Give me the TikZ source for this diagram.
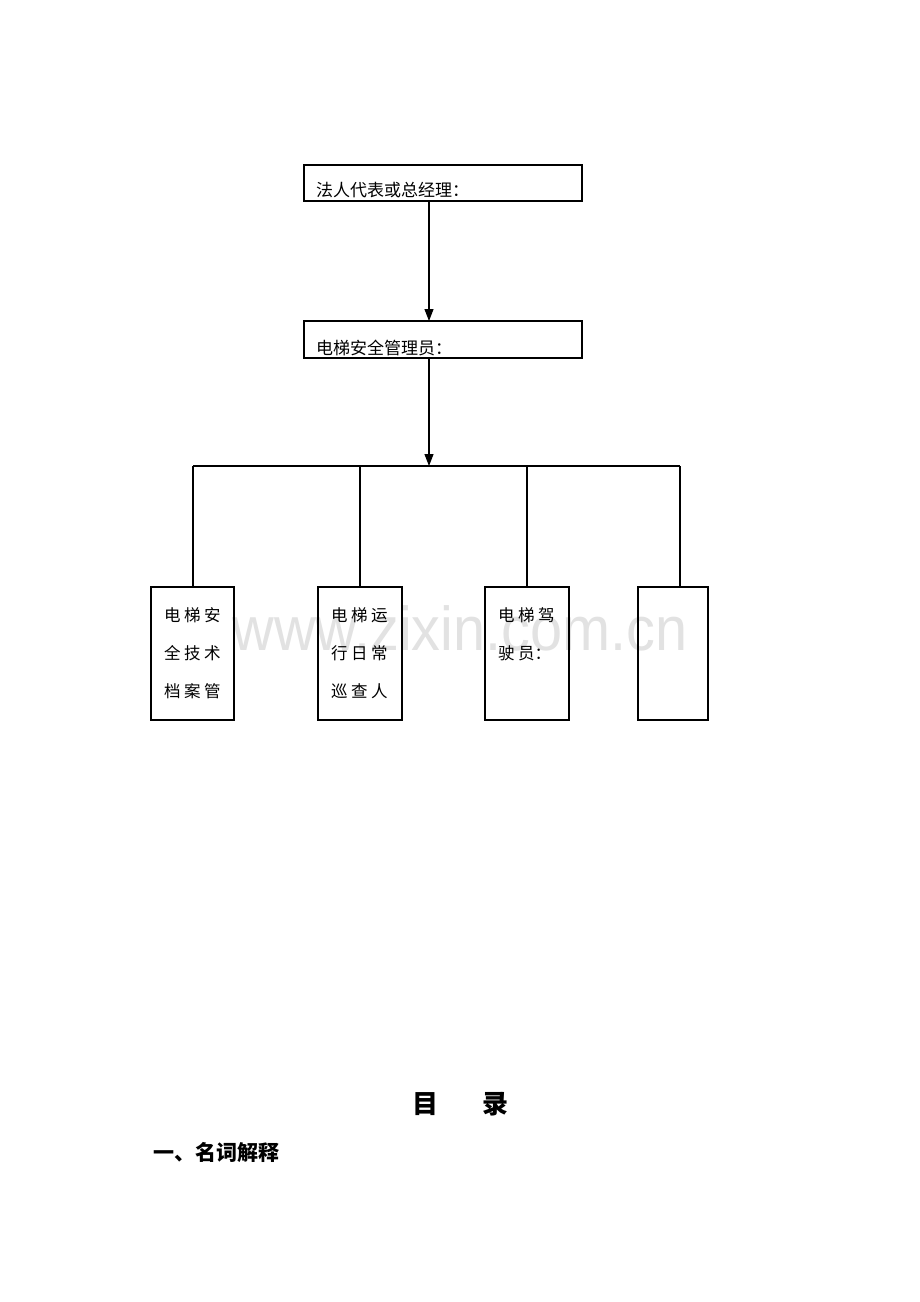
\documentclass[tikz,border=0pt]{standalone}
\usepackage{fontspec}
\newfontfamily\cjk{Noto Sans CJK SC}
\newfontfamily\wmfont{Liberation Sans}
\usetikzlibrary{arrows.meta}
\definecolor{wmgray}{RGB}{226,226,226}
\newcommand{\gap}{\hspace{3.5pt}}
\begin{document}
\begin{tikzpicture}[x=1pt,y=-1pt,
  frame/.style={draw=black,line width=1.1pt,inner sep=0pt,rectangle},
  link/.style={draw=black,line width=1.1pt},
  arr/.style={link,-{Triangle[length=12pt,width=9pt]}},
  txt/.style={inner sep=0pt,font=\cjk\fontsize{17}{17}\selectfont},
  stxt/.style={inner sep=0pt,font=\cjk\fontsize{16.5}{16.5}\selectfont}]
\useasboundingbox (0,0) rectangle (920,1302);
\fill[white] (0,0) rectangle (920,1302);
% watermark
\node (wm) [inner sep=0pt,anchor=base,text=wmgray,xscale=0.93,font=\wmfont\fontsize{62}{62}\selectfont] at (460,650) {www.zixin.com.cn};
% top boxes
\node (b1) [frame,minimum width=278pt,minimum height=36pt] at (443,183) {};
\node (t1) [txt,anchor=base west] at (316,196) {法人代表或总经理：};
\node (b2) [frame,minimum width=278pt,minimum height=37pt] at (443,339.5) {};
\node (t2) [txt,anchor=base west] at (316,354) {电梯安全管理员：};
% coordinates
\coordinate (a1) at (429,201);
\coordinate (a2) at (429,321);
\coordinate (a3) at (429,358);
\coordinate (j) at (429,466);
\coordinate (hl) at (193,466);
\coordinate (hr) at (680,466);
\coordinate (v2) at (360,466);
\coordinate (v3) at (527,466);
\draw[arr] (a1) -- (a2);
\draw[arr] (a3) -- (j);
\draw[link] (hl) -- (hr);
% bottom boxes
\node (c1) [frame,minimum width=83pt,minimum height=133pt] at (192.5,653.5) {};
\node (c2) [frame,minimum width=84pt,minimum height=133pt] at (360,653.5) {};
\node (c3) [frame,minimum width=84pt,minimum height=133pt] at (527,653.5) {};
\node (c4) [frame,minimum width=70pt,minimum height=133pt] at (673,653.5) {};
\draw[link] (hl) -- (hl |- c1.north);
\draw[link] (v2) -- (c2.north);
\draw[link] (v3) -- (c3.north);
\draw[link] (hr) -- (hr |- c4.north);
% box texts
\node (c1a) [stxt,anchor=base west] at (164,621) {电\gap 梯\gap 安};
\node (c1b) [stxt,anchor=base west] at (164,659) {全\gap 技\gap 术};
\node (c1c) [stxt,anchor=base west] at (164,697) {档\gap 案\gap 管};
\node (c2a) [stxt,anchor=base west] at (331,621) {电\gap 梯\gap 运};
\node (c2b) [stxt,anchor=base west] at (331,659) {行\gap 日\gap 常};
\node (c2c) [stxt,anchor=base west] at (331,697) {巡\gap 查\gap 人};
\node (c3a) [stxt,anchor=base west] at (498,621) {电\gap 梯\gap 驾};
\node (c3b) [stxt,anchor=base west] at (498,659) {驶\gap 员：};
% bottom headings
\node (title) [inner sep=0pt,anchor=base west,font=\cjk\bfseries\fontsize{26}{26}\selectfont] at (412,1113) {目\hspace{44pt}录};
\node (sec) [inner sep=0pt,anchor=base west,font=\cjk\bfseries\fontsize{21}{21}\selectfont] at (153,1160) {一、名词解释};
\end{tikzpicture}
\end{document}
